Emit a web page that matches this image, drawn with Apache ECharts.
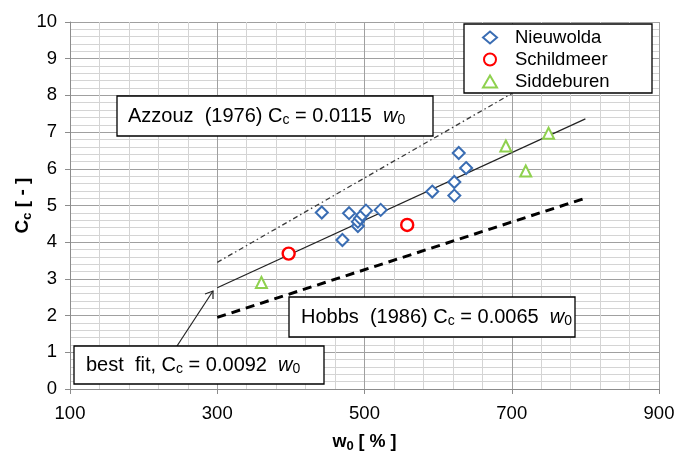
<!DOCTYPE html>
<html>
<head>
<meta charset="utf-8">
<script src="https://cdn.jsdelivr.net/npm/echarts@6/dist/echarts.min.js"></script>
<style>html,body{margin:0;padding:0;background:#fff}#c{width:691px;height:455px}</style>
</head>
<body>
<div id="c"></div>
<script>
// ---- data ----
var xTicks = [100, 300, 500, 700, 900];
var yTicks = [0, 1, 2, 3, 4, 5, 6, 7, 8, 9, 10];
var nieuwoldaX = [442, 470, 479, 491, 491, 494, 497, 502, 522, 592, 622, 622, 628, 638];
var nieuwoldaY = [4.81, 4.06, 4.79, 4.44, 4.56, 4.65, 4.74, 4.86, 4.88, 5.38, 5.64, 5.27, 6.43, 6.02];
var schildmeerX = [397, 558];
var schildmeerY = [3.69, 4.47];
var siddeburenX = [360, 692, 719, 750];
var siddeburenY = [2.90, 6.62, 5.94, 6.97];
var bestFitX = [300, 800];
var bestFitY = [2.76, 7.36];
var azzouzX = [300, 700];
var azzouzY = [3.45, 8.05];
var hobbsX = [300, 800];
var hobbsY = [1.95, 5.20];

function pairs(xs, ys) { return xs.map(function (x, i) { return [x, ys[i]]; }); }

var FONT = '"Liberation Sans", Arial, sans-serif';
var chart = echarts.init(document.getElementById('c'), null, { renderer: 'canvas' });

var rich = {
  n: { fontSize: 20, fontFamily: FONT, color: '#000', lineHeight: 26 },
  s: { fontSize: 14, fontFamily: FONT, color: '#000', lineHeight: 17, padding: [9, 0, 0, 0] },
  i: { fontSize: 20, fontFamily: FONT, color: '#000', fontStyle: 'italic', lineHeight: 26 }
};

function box(x, y, w, h, tx, ty, text) {
  return [
    { type: 'rect', z: 10, shape: { x: x, y: y, width: w, height: h },
      style: { fill: '#fff', stroke: '#000', lineWidth: 1.3 } },
    { type: 'text', z: 11, x: tx, y: ty,
      style: { text: text, rich: rich, verticalAlign: 'middle', align: 'left' } }
  ];
}

var graphics = [].concat(
  // legend box
  [{ type: 'rect', z: 10, shape: { x: 464, y: 24, width: 188, height: 69 },
     style: { fill: '#fff', stroke: '#000', lineWidth: 1.3 } }],
  box(117, 96, 316, 40, 128, 116, '{n|Azzouz  (1976) C}{s|c}{n| = 0.0115  }{i|w}{s|0}'),
  box(289, 297, 286, 40, 301, 317, '{n|Hobbs  (1986) C}{s|c}{n| = 0.0065  }{i|w}{s|0}'),
  box(74, 346, 250, 38, 86, 365, '{n|best  fit, C}{s|c}{n| = 0.0092  }{i|w}{s|0}'),
  [
    { type: 'line', z: 9, shape: { x1: 177, y1: 346, x2: 213, y2: 291 },
      style: { stroke: '#222', lineWidth: 1.2 } },
    { type: 'polyline', z: 9, shape: { points: [[205, 294], [213, 291], [213, 299]] },
      style: { stroke: '#222', lineWidth: 1.2, fill: null } }
  ]
);

var option = {
  animation: false,
  backgroundColor: '#fff',
  grid: { left: 70, right: 32, top: 22, bottom: 66, containLabel: false, outerBoundsMode: 'none' },
  xAxis: {
    type: 'value', min: xTicks[0], max: xTicks[xTicks.length - 1], interval: 200,
    name: '{b|w}{bs|0}{b| [ % ]}', nameLocation: 'middle', nameGap: 41,
    nameTextStyle: { rich: {
      b: { fontSize: 18, fontWeight: 'bold', fontFamily: FONT, color: '#000', lineHeight: 24 },
      bs: { fontSize: 13, fontWeight: 'bold', fontFamily: FONT, color: '#000', lineHeight: 16, padding: [9, 0, 0, 0] }
    } },
    axisLine: { lineStyle: { color: '#8c8c8c', width: 1 } },
    axisTick: { show: true, length: 5, lineStyle: { color: '#8c8c8c' } },
    axisLabel: { fontSize: 18.5, fontFamily: FONT, color: '#000', margin: 15 },
    splitLine: { lineStyle: { color: '#a0a0a0', width: 1 } },
    minorTick: { show: false, splitNumber: 5 },
    minorSplitLine: { show: true, lineStyle: { color: '#d4d4d4', width: 1 } }
  },
  yAxis: {
    type: 'value', min: yTicks[0], max: yTicks[yTicks.length - 1], interval: 1,
    name: '{b|C}{bs|c}{b| [ - ]}', nameLocation: 'middle', nameGap: 35, nameRotate: 90,
    nameMoveOverlap: false,
    nameTextStyle: { rich: {
      b: { fontSize: 19, fontWeight: 'bold', fontFamily: FONT, color: '#000', lineHeight: 24 },
      bs: { fontSize: 13, fontWeight: 'bold', fontFamily: FONT, color: '#000', lineHeight: 16, padding: [9, 0, 0, 0] }
    } },
    axisLine: { show: true, lineStyle: { color: '#8c8c8c', width: 1 } },
    axisTick: { show: true, length: 5, lineStyle: { color: '#8c8c8c' } },
    axisLabel: { fontSize: 18.5, fontFamily: FONT, color: '#000', margin: 13 },
    splitLine: { lineStyle: { color: '#a0a0a0', width: 1 } },
    minorTick: { show: false, splitNumber: 5 },
    minorSplitLine: { show: true, lineStyle: { color: '#d4d4d4', width: 1 } }
  },
  legend: {
    z: 20, orient: 'vertical', left: 477, top: 23, itemGap: 3,
    itemWidth: 14, itemHeight: 12,
    data: ['Nieuwolda', 'Schildmeer', 'Siddeburen'],
    textStyle: { fontSize: 18.5, fontFamily: FONT, color: '#000', padding: [0, 0, 0, 13], lineHeight: 19 }
  },
  graphic: graphics,
  series: [
    { name: 'Azzouz', type: 'line', data: pairs(azzouzX, azzouzY), symbol: 'none', silent: true,
      lineStyle: { color: '#3a3a3a', width: 1.3, type: [5, 3, 1.5, 3] }, z: 2 },
    { name: 'Hobbs', type: 'line', data: pairs(hobbsX, hobbsY), symbol: 'none', silent: true,
      lineStyle: { color: '#000', width: 3, type: [9, 6] }, z: 2 },
    { name: 'best fit', type: 'line', data: pairs(bestFitX, bestFitY), symbol: 'none', silent: true,
      lineStyle: { color: '#222', width: 1.2 }, z: 2 },
    { name: 'Nieuwolda', type: 'scatter', data: pairs(nieuwoldaX, nieuwoldaY), symbol: 'diamond', symbolSize: 12,
      itemStyle: { color: '#fff', borderColor: '#3a6db3', borderWidth: 2, opacity: 1 }, z: 3 },
    { name: 'Schildmeer', type: 'scatter', data: pairs(schildmeerX, schildmeerY), symbol: 'circle', symbolSize: 12,
      itemStyle: { color: '#fff', borderColor: '#ff0000', borderWidth: 2.4, opacity: 1 }, z: 3 },
    { name: 'Siddeburen', type: 'scatter', data: pairs(siddeburenX, siddeburenY), symbol: 'triangle', symbolSize: 11,
      itemStyle: { color: '#fff', borderColor: '#8fd14f', borderWidth: 2, opacity: 1 }, z: 3 }
  ]
};
chart.setOption(option);
</script>
</body>
</html>
